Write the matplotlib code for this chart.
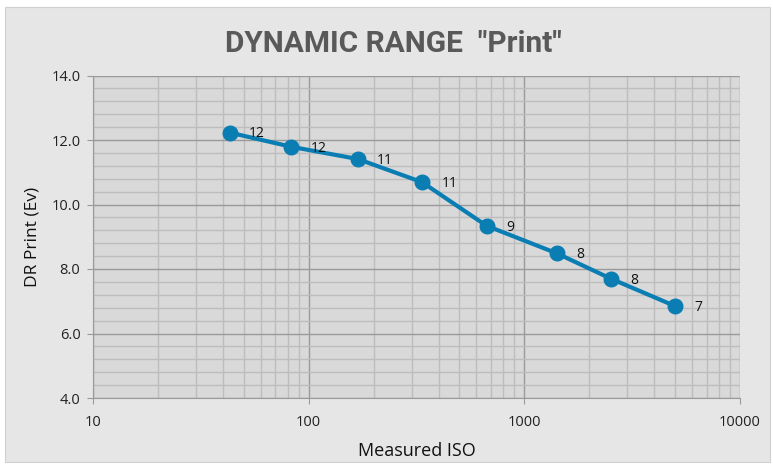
import matplotlib
matplotlib.use("Agg")
import matplotlib.pyplot as plt
from matplotlib.patches import Rectangle
from matplotlib.ticker import LogLocator, FixedLocator, FuncFormatter, NullFormatter
import numpy as np

iso = [43, 83, 169, 336, 668, 1410, 2520, 5000]
dr = [12.23, 11.79, 11.41, 10.69, 9.34, 8.49, 7.70, 6.85]
labels = ["12", "12", "11", "11", "9", "8", "8", "7"]
xticks = [10, 100, 1000, 10000]
xticklabels = ["10", "100", "1000", "10000"]
yticks = [4, 6, 8, 10, 12, 14]

W, H = 773, 468
fig = plt.figure(figsize=(W / 100, H / 100), dpi=100)
fig.patch.set_facecolor("white")
fig.patches.append(Rectangle((5 / W, 1 - 462 / H), 765 / W, 455 / H, transform=fig.transFigure,
                             facecolor="#e6e6e6", edgecolor="#d0d0d0", lw=0.8, zorder=-10))

ax = fig.add_axes([93 / W, 1 - 398 / H, (740 - 93) / W, (398 - 75.5) / H])
ax.set_facecolor("#d9d9d9")
ax.set_xscale("log")
ax.set_xlim(10, 10000)
ax.set_ylim(4, 14)

ax.xaxis.set_major_locator(FixedLocator(xticks))
ax.xaxis.set_major_formatter(FuncFormatter(lambda v, p: xticklabels[xticks.index(int(round(v)))] if int(round(v)) in xticks else ""))
ax.xaxis.set_minor_locator(LogLocator(base=10, subs=np.arange(2, 10)))
ax.xaxis.set_minor_formatter(NullFormatter())
ax.yaxis.set_major_locator(FixedLocator(yticks))
ax.yaxis.set_minor_locator(FixedLocator(np.arange(4, 14.01, 0.4)))
ax.yaxis.set_major_formatter(FuncFormatter(lambda v, p: f"{v:.1f}"))

ax.grid(True, which="major", color="#9a9a9a", lw=1.0)
ax.grid(True, which="minor", color="#bdbdbd", lw=1.0)
ax.set_axisbelow(True)
for s in ["top", "right"]:
    ax.spines[s].set_visible(False)
ax.spines["left"].set_color("#9a9a9a")
ax.spines["bottom"].set_color("#9a9a9a")
ax.tick_params(axis="both", which="major", length=4, color="#9a9a9a", labelsize=10.5, labelcolor="#222222", pad=5)
ax.tick_params(axis="both", which="minor", length=0)
ax.tick_params(axis="x", which="major", pad=8)
for lab in ax.get_xticklabels() + ax.get_yticklabels():
    lab.set_family("Open Sans")

ax.plot(iso, dr, color="#0a7db3", lw=3.0, marker="o", ms=10.5, zorder=3, clip_on=False)
for x, y, t in zip(iso, dr, labels):
    ax.annotate(t, (x, y), xytext=(14, -1), textcoords="offset points", fontsize=10,
                color="#111111", family="Open Sans", va="center", ha="left")

fig.text(393 / W, 1 - 44 / H, 'DYNAMIC RANGE  "Print"', ha="center", va="center", fontsize=21.5,
         fontweight="bold", color="#595959", family="Roboto")
ax.set_xlabel("Measured ISO", fontsize=13, family="Open Sans", color="#111111", labelpad=9)
ax.set_ylabel("DR Print (Ev)", fontsize=12.5, family="Open Sans", color="#111111", labelpad=8)

fig.savefig("out.png", dpi=100)
